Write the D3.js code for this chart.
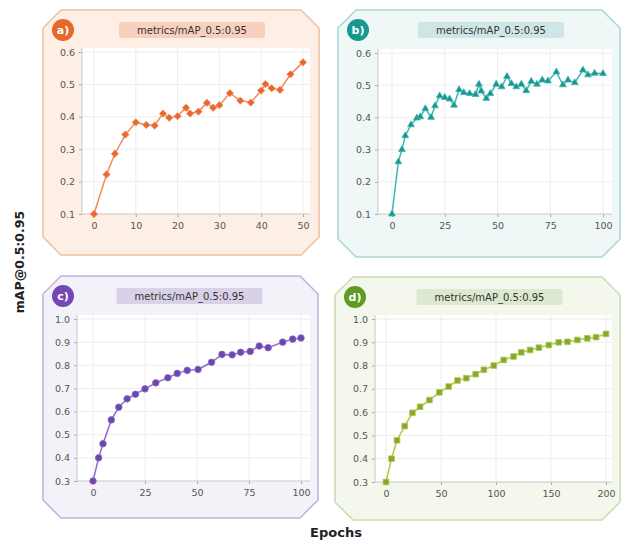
<!DOCTYPE html>
<html><head><meta charset="utf-8">
<script src="https://cdn.jsdelivr.net/npm/d3@7"></script>
<style>body{margin:0;background:#fff;}svg{display:block;font-family:"DejaVu Sans",sans-serif;}</style>
</head><body>
<svg id="c" width="624" height="543"></svg>
<script>
// ---- data ----
const titleText = "metrics/mAP_0.5:0.95";
const panelLabels = ["a)", "b)", "c)", "d)"];
const yLabel = "mAP@0.5:0.95";
const xLabel = "Epochs";

const aEpochs = [0,3,5,7.5,10,12.5,14.5,16.5,18,20,22,23,25,27,28.5,30,32.5,35,37.5,40,41,42.5,44.5,47,50];
const aValues = [0.10,0.222,0.286,0.345,0.383,0.375,0.373,0.41,0.397,0.402,0.428,0.41,0.416,0.443,0.428,0.436,0.473,0.45,0.444,0.481,0.501,0.488,0.483,0.531,0.568];

const bEpochs = [0,3,4.7,6.3,9,11.8,13.4,15.8,18.5,20.4,22.6,25,27.3,29.4,31.8,34,36.8,39.6,41.2,42.3,44.7,46.6,49.4,52,54.5,56.6,58.9,61.3,63.6,66,68.7,71.2,73.9,77.9,81,83.4,86.6,90.5,92.9,96,100];
const bValues = [0.10,0.262,0.30,0.343,0.377,0.398,0.402,0.427,0.40,0.436,0.467,0.462,0.457,0.438,0.486,0.477,0.474,0.471,0.503,0.482,0.459,0.474,0.503,0.495,0.527,0.505,0.495,0.503,0.483,0.512,0.503,0.516,0.513,0.541,0.501,0.516,0.508,0.547,0.532,0.537,0.536];

const cEpochs = [0,2.7,4.8,8.8,12.4,16.4,20.4,25,30.2,36,40.5,45.3,50.5,57,62,66.9,71,75.6,79.9,84.2,91.2,96,100];
const cValues = [0.30,0.40,0.461,0.564,0.619,0.655,0.675,0.698,0.724,0.746,0.765,0.778,0.782,0.813,0.847,0.845,0.856,0.86,0.883,0.876,0.90,0.913,0.918];

const dEpochs = [0,5,10,17,24,31,39.5,48.5,57,65,73,81.5,89,98,107,116,123,131,139,148,157,165,174,183,191,200];
const dValues = [0.30,0.40,0.479,0.54,0.597,0.623,0.652,0.685,0.71,0.736,0.746,0.763,0.782,0.80,0.824,0.839,0.857,0.867,0.877,0.888,0.90,0.902,0.91,0.917,0.922,0.936];

const aXTicks = [0,10,20,30,40,50];
const bXTicks = [0,25,50,75,100];
const cXTicks = [0,25,50,75,100];
const dXTicks = [0,50,100,150,200];
const abYTicks = [0.1,0.2,0.3,0.4,0.5,0.6];
const cdYTicks = [0.3,0.4,0.5,0.6,0.7,0.8,0.9,1.0];

// ---- layout / style ----
const panels = [
  {label:panelLabels[0], xs:aEpochs, ys:aValues, xt:aXTicks, yt:abYTicks,
   frame:{x:43,y:10,w:276,h:245}, plot:{l:82,r:310,t:52,b:214}, xpx:[94,303],
   bg:"#fdefe6", border:"#f1c0a2", badge:"#e8672a", pill:"#f7d1bd",
   line:"#f28c5a", mark:"#e66a30", sym:d3.symbolDiamond2, size:34},
  {label:panelLabels[1], xs:bEpochs, ys:bValues, xt:bXTicks, yt:abYTicks,
   frame:{x:338,y:10,w:282,h:247}, plot:{l:378,r:612,t:53,b:214}, xpx:[392,603],
   bg:"#eff7f7", border:"#abd6d6", badge:"#17988f", pill:"#cfe6e6",
   line:"#3cb7b0", mark:"#1a948f", sym:d3.symbolTriangle, size:20},
  {label:panelLabels[2], xs:cEpochs, ys:cValues, xt:cXTicks, yt:cdYTicks,
   frame:{x:43,y:276,w:275,h:242}, plot:{l:77,r:310,t:319,b:481}, xpx:[93,301],
   bg:"#f4f2f9", border:"#bfb4da", badge:"#7447b5", pill:"#d8d1e7",
   line:"#8d6bcb", mark:"#6c45ad", sym:d3.symbolCircle, size:34},
  {label:panelLabels[3], xs:dEpochs, ys:dValues, xt:dXTicks, yt:cdYTicks,
   frame:{x:335,y:277,w:285,h:243}, plot:{l:375,r:612,t:319,b:482}, xpx:[386,606],
   bg:"#f3f7ec", border:"#cbddb2", badge:"#5f9a22", pill:"#dce8d0",
   line:"#aec94f", mark:"#86a82c", sym:d3.symbolSquare, size:32}
];

const svg = d3.select("#c");

function octagon(f, c) {
  const {x, y, w, h} = f;
  return `M${x+c},${y} L${x+w-c},${y} L${x+w},${y+c} L${x+w},${y+h-c} L${x+w-c},${y+h} L${x+c},${y+h} L${x},${y+h-c} L${x},${y+c} Z`;
}

panels.forEach(p => {
  const g = svg.append("g");
  g.append("path").attr("d", octagon(p.frame, 18))
    .attr("fill", p.bg).attr("stroke", p.border).attr("stroke-width", 1.6);

  g.append("rect").attr("x", p.plot.l).attr("y", p.plot.t - 4)
    .attr("width", p.plot.r - p.plot.l).attr("height", p.plot.b - p.plot.t + 4)
    .attr("fill", "#fff");

  const x = d3.scaleLinear().domain([p.xt[0], p.xt[p.xt.length-1]]).range(p.xpx);
  const y = d3.scaleLinear().domain([p.yt[0], p.yt[p.yt.length-1]]).range([p.plot.b, p.plot.t]);

  g.append("g").selectAll("line").data(p.yt.slice(1)).join("line")
    .attr("x1", p.plot.l).attr("x2", p.plot.r)
    .attr("y1", d => y(d)).attr("y2", d => y(d))
    .attr("stroke", "#ededed").attr("stroke-width", 1);
  g.append("g").selectAll("line").data(p.xt).join("line")
    .attr("x1", d => x(d)).attr("x2", d => x(d))
    .attr("y1", p.plot.t - 4).attr("y2", p.plot.b)
    .attr("stroke", "#ededed").attr("stroke-width", 1);

  const yAxis = d3.axisLeft(y).tickValues(p.yt).tickFormat(d3.format(".1f")).tickSize(3).tickPadding(4);
  const ya = g.append("g").attr("transform", `translate(${p.plot.l},0)`).call(yAxis);
  const xAxis = d3.axisBottom(x).tickValues(p.xt).tickFormat(d3.format("d")).tickSize(3).tickPadding(5);
  const xa = g.append("g").attr("transform", `translate(0,${p.plot.b})`).call(xAxis);
  [ya, xa].forEach(a => {
    a.select(".domain").remove();
    a.selectAll(".tick line").attr("stroke", "#aaa");
    a.selectAll(".tick text").attr("fill", "#555").style("font-size", "9.5px").style("font-family", "DejaVu Sans");
  });
  g.append("line").attr("x1", p.plot.l).attr("x2", p.plot.l).attr("y1", p.plot.t - 4).attr("y2", p.plot.b)
    .attr("stroke", "#c8c8c8");
  g.append("line").attr("x1", p.plot.l).attr("x2", p.plot.r).attr("y1", p.plot.b).attr("y2", p.plot.b)
    .attr("stroke", "#c8c8c8");

  const pts = p.xs.map((d, i) => [d, p.ys[i]]);
  g.append("path").datum(pts)
    .attr("d", d3.line().x(d => x(d[0])).y(d => y(d[1])))
    .attr("fill", "none").attr("stroke", p.line).attr("stroke-width", 1.5);
  g.append("g").selectAll("path").data(pts).join("path")
    .attr("transform", d => `translate(${x(d[0])},${y(d[1])})`)
    .attr("d", d3.symbol().type(p.sym).size(p.size))
    .attr("fill", p.mark).attr("stroke", p.line).attr("stroke-width", 0.8);

  const bx = p.frame.x + 20, by = p.frame.y + 20;
  g.append("circle").attr("cx", bx).attr("cy", by).attr("r", 11).attr("fill", p.badge);
  g.append("text").attr("x", bx).attr("y", by + 4).attr("text-anchor", "middle")
    .attr("fill", "#fff").style("font-size", "11px").style("font-weight", "bold").text(p.label);

  const cx = (p.plot.l + p.plot.r) / 2 - 4;
  g.append("rect").attr("x", cx - 73).attr("y", p.frame.y + 12).attr("width", 146).attr("height", 16)
    .attr("rx", 2).attr("fill", p.pill);
  g.append("text").attr("x", cx).attr("y", p.frame.y + 24).attr("text-anchor", "middle")
    .attr("fill", "#333").style("font-size", "10px").text(titleText);
});

svg.append("text").attr("transform", "translate(24,262) rotate(-90)").attr("text-anchor", "middle")
  .style("font-size", "12.5px").style("font-weight", "bold").attr("fill", "#222").text(yLabel);
svg.append("text").attr("x", 336).attr("y", 537).attr("text-anchor", "middle")
  .style("font-size", "13px").style("font-weight", "bold").attr("fill", "#222").text(xLabel);
</script>
</body></html>
